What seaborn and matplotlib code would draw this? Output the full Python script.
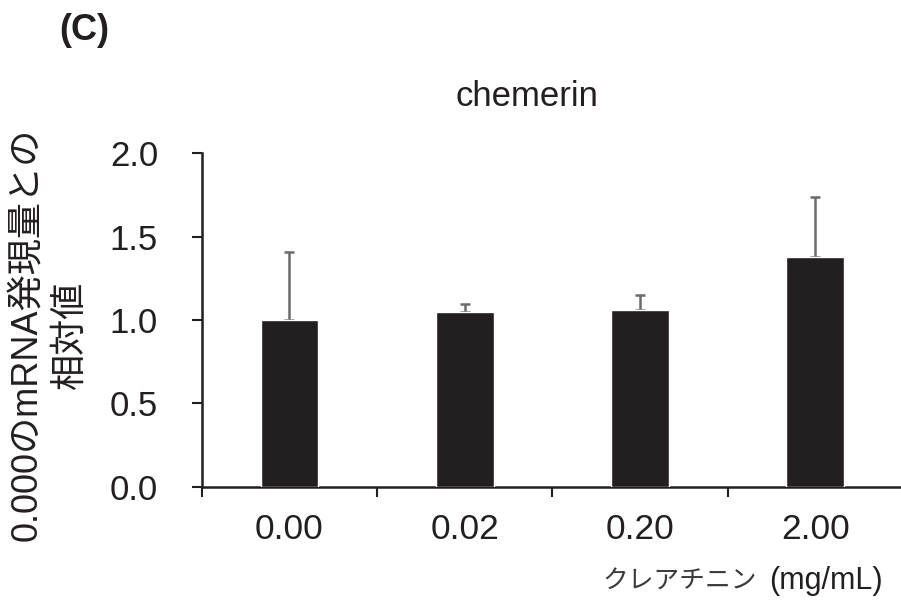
import numpy as np
import pandas as pd
import matplotlib
matplotlib.use("Agg")
import matplotlib.pyplot as plt
import seaborn as sns

# ====================
#  DATA
# ====================
doses = ["0.00", "0.02", "0.20", "2.00"]
relative_expr = [1.00, 1.05, 1.06, 1.38]
upper_err = [0.41, 0.045, 0.09, 0.36]

ytick_vals = [0.0, 0.5, 1.0, 1.5, 2.0]
ytick_labels = ["0.0", "0.5", "1.0", "1.5", "2.0"]

title = "chemerin"
panel = "(C)"
ylabel = "0.000のmRNA発現量との\n相対値"
xlabel_name = "クレアチニン"
xlabel_unit = "(mg/mL)"

# ====================
#  PLOT
# ====================
sns.set_style("white")
plt.rcParams["font.family"] = ["Liberation Sans", "Noto Sans CJK JP", "DejaVu Sans"]

df = pd.DataFrame({"dose": doses, "value": relative_expr})

fig = plt.figure(figsize=(9.01, 6.01), dpi=100)
ax = fig.add_axes([0.224, 0.19, 0.778, 0.555])

sns.barplot(data=df, x="dose", y="value", color="#231f20", width=0.33,
            saturation=1, errorbar=None, ax=ax, zorder=3)

# one-sided error bars
x_pos = np.arange(len(doses))
ax.errorbar(x_pos, relative_expr, yerr=[np.zeros(len(doses)), upper_err],
            fmt="none", ecolor="#6b6b6b", elinewidth=1.8, capsize=3.8,
            capthick=1.8, zorder=2)

ax.set_xlim(-0.5, 3.5)
ax.set_ylim(0, 2.0)
ax.set_yticks(ytick_vals)
ax.set_yticklabels(ytick_labels)

# x ticks sit between categories, labels at centres
ax.set_xticks(np.arange(-0.5, 4.0, 1.0))
ax.set_xticklabels([])
ax.set_xticks(x_pos, minor=True)
ax.set_xticklabels(doses, minor=True)
ax.tick_params(axis="x", which="major", direction="out", length=7, width=1.5,
               color="#231f20", bottom=True)
ax.tick_params(axis="x", which="minor", length=0, pad=19, labelsize=25.5,
               labelcolor="#231f20")
ax.tick_params(axis="y", direction="out", length=7.5, width=1.5,
               color="#231f20", left=True, pad=24, labelsize=25,
               labelcolor="#231f20")

for s in ["top", "right"]:
    ax.spines[s].set_visible(False)
for s in ["left", "bottom"]:
    ax.spines[s].set_color("#231f20")
    ax.spines[s].set_linewidth(1.8)
ax.grid(False)

ax.set_xlabel("")
ax.set_ylabel("")

fig.text(0.585, 0.839, title, ha="center", va="center", fontsize=25,
         color="#231f20")
fig.text(0.054, 0.443, ylabel, rotation=90, ha="center", va="center",
         fontsize=26, color="#231f20", linespacing=1.3,
         multialignment="center")
fig.text(0.98, 0.033, xlabel_unit, ha="right", va="center", fontsize=22,
         color="#231f20")
fig.text(0.84, 0.033, xlabel_name, ha="right", va="center", fontsize=18.5,
         color="#3a3a3a")
fig.text(0.066, 0.95, panel, ha="left", va="center", fontsize=26,
         fontweight="bold", color="#231f20")

fig.savefig("out.png", dpi=100)
